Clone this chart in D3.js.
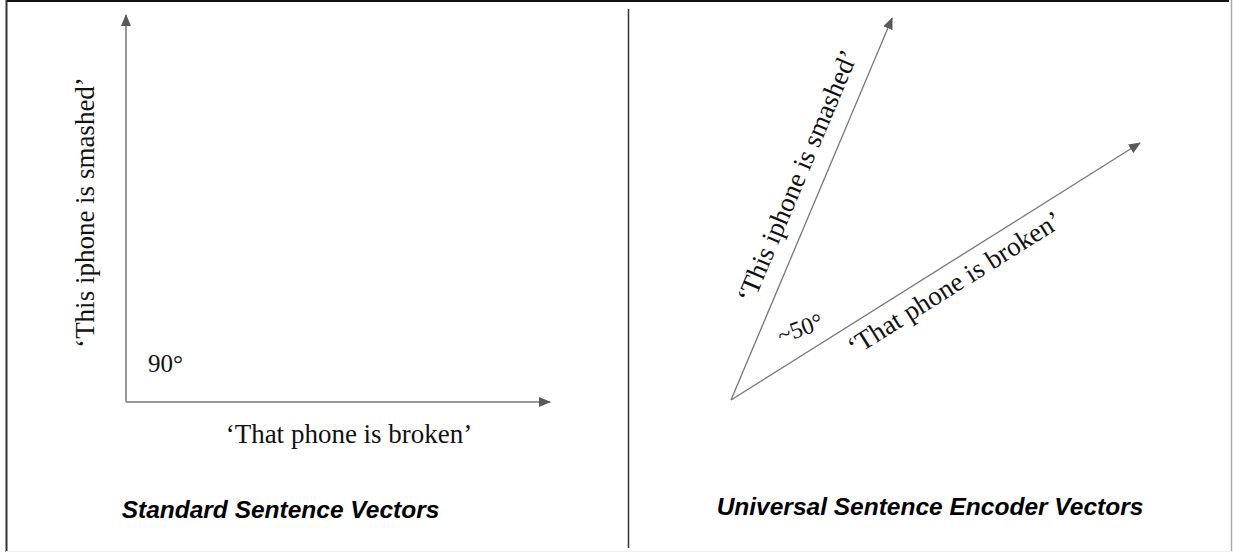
<!DOCTYPE html>
<html><head><meta charset="utf-8">
<script src="https://cdn.jsdelivr.net/npm/d3@7"></script>
<style>html,body{margin:0;padding:0;background:#fff;}svg{display:block;}</style>
</head><body>
<svg id="c" width="1233" height="556"></svg>
<script>
// ---- data ----
const panelTitles = ["Standard Sentence Vectors", "Universal Sentence Encoder Vectors"];
const sentences = ["\u2018That phone is broken\u2019", "\u2018This iphone is smashed\u2019"];
const standardVectors = [[1, 0], [0, 1]];          // orthogonal
const useVectors = [[1, 1], [0.394, 1.486]];       // ~50 degrees apart
const angleLabels = ["90\u00b0", "~50\u00b0"];

const svg = d3.select("#c");
const W = 1233, H = 556;

// frame
svg.append("rect").attr("x", 0).attr("y", 0).attr("width", W).attr("height", H).attr("fill", "#fff");
svg.append("line").attr("x1", 6).attr("x2", 1229).attr("y1", 1).attr("y2", 1).attr("stroke", "#111").attr("stroke-width", 2);
svg.append("line").attr("x1", 6.5).attr("x2", 6.5).attr("y1", 0).attr("y2", 552).attr("stroke", "#333").attr("stroke-width", 2);
svg.append("line").attr("x1", 1231.5).attr("x2", 1231.5).attr("y1", 0).attr("y2", 552).attr("stroke", "#aaa").attr("stroke-width", 1.5);
svg.append("line").attr("x1", 6).attr("x2", 1233).attr("y1", 551.5).attr("y2", 551.5).attr("stroke", "#eee").attr("stroke-width", 1);
svg.append("line").attr("x1", 628.5).attr("x2", 628.5).attr("y1", 9).attr("y2", 548).attr("stroke", "#333").attr("stroke-width", 1.5);

// arrow marker
const defs = svg.append("defs");
defs.append("marker").attr("id", "ah").attr("viewBox", "0 0 12 10")
  .attr("refX", 11).attr("refY", 5).attr("markerWidth", 12).attr("markerHeight", 10)
  .attr("markerUnits", "userSpaceOnUse").attr("orient", "auto")
  .append("path").attr("d", "M0,0 L12,5 L0,10 Z").attr("fill", "#595959");

const serif = "'Liberation Serif', 'DejaVu Serif', serif";
const sans = "'Liberation Sans', Arial, sans-serif";

// ---- left panel ----
const xL = d3.scaleLinear().domain([0, 1]).range([126, 550]);
const yL = d3.scaleLinear().domain([0, 1]).range([402, 15]);
const gL = svg.append("g");
gL.selectAll("line.v").data(standardVectors).join("line")
  .attr("x1", xL(0)).attr("y1", yL(0))
  .attr("x2", d => xL(d[0])).attr("y2", d => yL(d[1]))
  .attr("stroke", "#777").attr("stroke-width", 1.5).attr("marker-end", "url(#ah)");
gL.append("text").attr("x", (xL(0) + xL(1)) / 2 + 11).attr("y", 443)
  .attr("text-anchor", "middle").attr("font-family", serif).attr("font-size", 27).attr("fill", "#111")
  .text(sentences[0]);
gL.append("text").attr("transform", `translate(${94},${(yL(0) + yL(1)) / 2 + 4}) rotate(-90)`)
  .attr("text-anchor", "middle").attr("font-family", serif).attr("font-size", 27).attr("fill", "#111")
  .text(sentences[1]);
gL.append("text").attr("x", 148).attr("y", 372).attr("font-family", serif).attr("font-size", 25).attr("fill", "#111")
  .text(angleLabels[0]);
gL.append("text").attr("x", 280.5).attr("y", 518).attr("text-anchor", "middle")
  .attr("font-family", sans).attr("font-weight", "bold").attr("font-style", "italic")
  .attr("font-size", 24.5).attr("fill", "#000").text(panelTitles[0]);

// ---- right panel ----
const xR = d3.scaleLinear().domain([0, 1]).range([731, 1140]);
const yR = d3.scaleLinear().domain([0, 1]).range([400, 143]);
const gR = svg.append("g");
gR.selectAll("line.v").data(useVectors).join("line")
  .attr("x1", xR(0)).attr("y1", yR(0))
  .attr("x2", d => xR(d[0])).attr("y2", d => yR(d[1]))
  .attr("stroke", "#777").attr("stroke-width", 1.3).attr("marker-end", "url(#ah)");

function ang(v) { return Math.atan2(yR(v[1]) - yR(0), xR(v[0]) - xR(0)) * 180 / Math.PI; }
function alongLabel(v, t, off, text) {
  const cx = xR(0) + (xR(v[0]) - xR(0)) * t, cy = yR(0) + (yR(v[1]) - yR(0)) * t;
  const a = ang(v) * Math.PI / 180;
  const px = cx - Math.sin(a) * off, py = cy + Math.cos(a) * off;
  gR.append("text").attr("transform", `translate(${px},${py}) rotate(${ang(v)})`)
    .attr("text-anchor", "middle").attr("font-family", serif).attr("font-size", 27).attr("fill", "#111")
    .text(text);
}
alongLabel(useVectors[0], 0.52, 29, sentences[0]);
alongLabel(useVectors[1], 0.56, -17, sentences[1]);

gR.append("text").attr("transform", "translate(803,336) rotate(-20)").attr("text-anchor", "middle")
  .attr("font-family", serif).attr("font-size", 24).attr("fill", "#111").text(angleLabels[1]);
gR.append("text").attr("x", 930).attr("y", 515).attr("text-anchor", "middle")
  .attr("font-family", sans).attr("font-weight", "bold").attr("font-style", "italic")
  .attr("font-size", 24.5).attr("fill", "#000").text(panelTitles[1]);
</script>
</body></html>
